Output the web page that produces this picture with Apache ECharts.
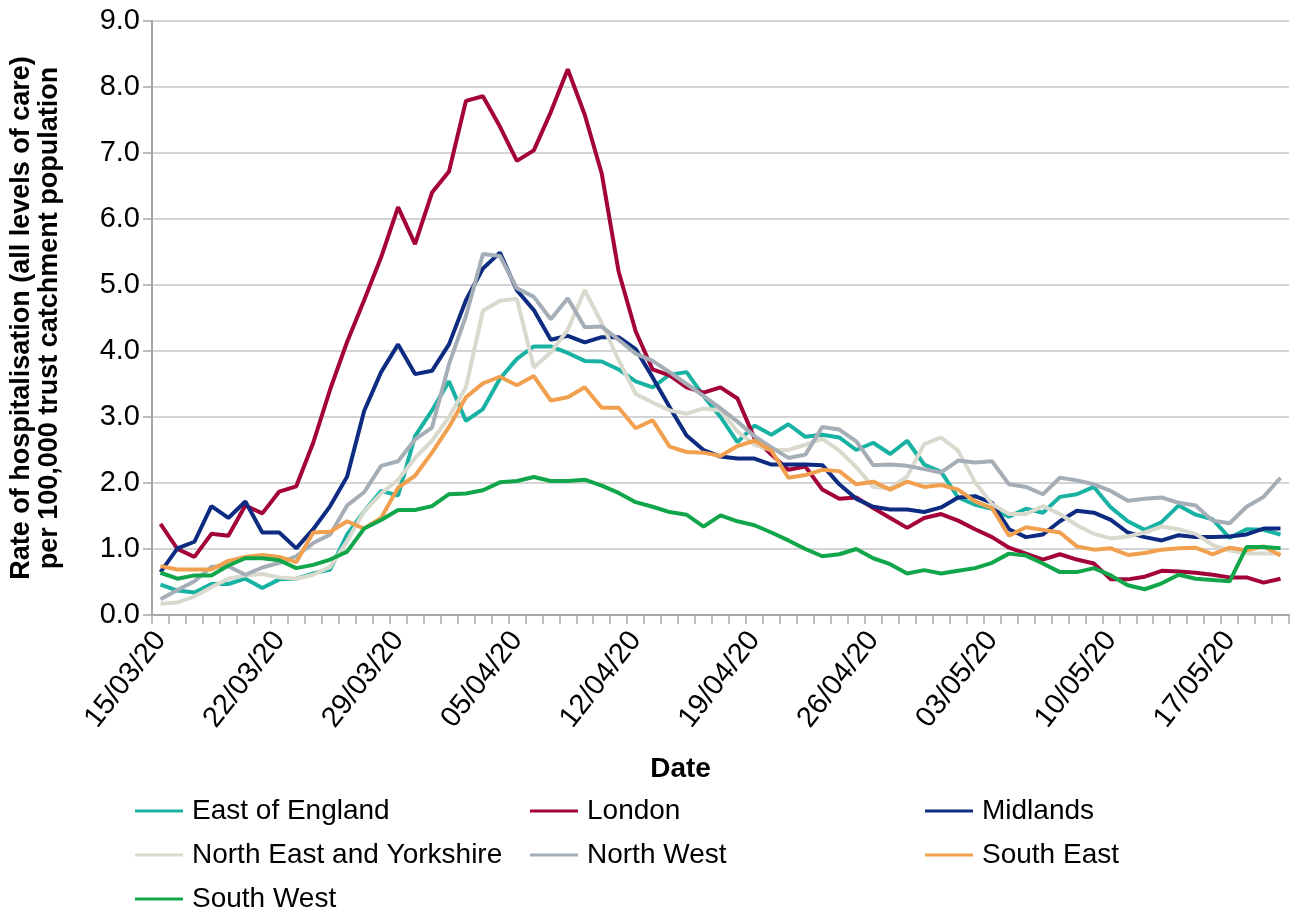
<!DOCTYPE html>
<html><head><meta charset="utf-8">
<script src="https://cdn.jsdelivr.net/npm/echarts@6/dist/echarts.min.js"></script>
<style>html,body{margin:0;padding:0;background:#fff}#c{width:1292px;height:908px}</style>
</head><body><div id="c"></div>
<script>
const dates = [
 '15/03/20','16/03/20','17/03/20','18/03/20','19/03/20','20/03/20','21/03/20','22/03/20','23/03/20','24/03/20',
 '25/03/20','26/03/20','27/03/20','28/03/20','29/03/20','30/03/20','31/03/20','01/04/20','02/04/20','03/04/20',
 '04/04/20','05/04/20','06/04/20','07/04/20','08/04/20','09/04/20','10/04/20','11/04/20','12/04/20','13/04/20',
 '14/04/20','15/04/20','16/04/20','17/04/20','18/04/20','19/04/20','20/04/20','21/04/20','22/04/20','23/04/20',
 '24/04/20','25/04/20','26/04/20','27/04/20','28/04/20','29/04/20','30/04/20','01/05/20','02/05/20','03/05/20',
 '04/05/20','05/05/20','06/05/20','07/05/20','08/05/20','09/05/20','10/05/20','11/05/20','12/05/20','13/05/20',
 '14/05/20','15/05/20','16/05/20','17/05/20','18/05/20','19/05/20','20/05/20'];

const yTicks = [0,1,2,3,4,5,6,7,8,9];

const eastOfEngland = [0.46,0.37,0.34,0.47,0.47,0.55,0.41,0.54,0.55,0.63,
 0.69,1.22,1.57,1.88,1.81,2.71,3.10,3.54,2.94,3.12,
 3.58,3.88,4.07,4.07,3.97,3.85,3.84,3.72,3.54,3.45,
 3.64,3.68,3.32,3.00,2.62,2.87,2.73,2.89,2.70,2.73,
 2.69,2.50,2.61,2.44,2.64,2.28,2.17,1.78,1.67,1.61,
 1.49,1.61,1.55,1.79,1.83,1.94,1.63,1.42,1.29,1.41,
 1.66,1.52,1.45,1.17,1.30,1.29,1.22];

const london = [1.38,1.00,0.88,1.23,1.20,1.66,1.54,1.87,1.95,2.61,
 3.42,4.14,4.77,5.42,6.18,5.62,6.40,6.72,7.79,7.86,
 7.40,6.88,7.04,7.62,8.27,7.58,6.69,5.20,4.30,3.72,
 3.63,3.45,3.37,3.45,3.28,2.68,2.43,2.20,2.25,1.90,
 1.76,1.78,1.62,1.47,1.32,1.47,1.53,1.43,1.30,1.18,
 1.02,0.93,0.84,0.92,0.84,0.78,0.54,0.54,0.58,0.67,
 0.66,0.64,0.61,0.57,0.57,0.49,0.55];

const midlands = [0.65,1.01,1.11,1.65,1.47,1.72,1.25,1.25,1.01,1.30,
 1.65,2.10,3.09,3.68,4.10,3.65,3.70,4.10,4.77,5.25,
 5.49,4.92,4.62,4.17,4.23,4.13,4.21,4.21,4.03,3.60,
 3.15,2.72,2.50,2.40,2.37,2.37,2.28,2.28,2.28,2.27,
 1.98,1.76,1.64,1.60,1.60,1.56,1.63,1.78,1.80,1.70,
 1.30,1.18,1.22,1.42,1.58,1.55,1.44,1.25,1.18,1.13,
 1.21,1.18,1.18,1.19,1.22,1.31,1.31];

const northEastYorkshire = [0.17,0.19,0.28,0.42,0.55,0.60,0.62,0.57,0.55,0.61,
 0.73,1.12,1.57,1.84,2.05,2.38,2.64,3.00,3.45,4.61,
 4.76,4.79,3.75,3.98,4.32,4.92,4.42,3.86,3.35,3.22,
 3.10,3.05,3.13,3.10,2.78,2.58,2.50,2.50,2.58,2.67,
 2.49,2.24,1.94,1.92,2.10,2.59,2.69,2.49,2.01,1.68,
 1.53,1.53,1.65,1.53,1.36,1.23,1.16,1.19,1.25,1.34,
 1.30,1.23,1.06,0.98,0.93,0.93,0.93];

const northWest = [0.24,0.38,0.51,0.73,0.74,0.61,0.72,0.79,0.89,1.09,
 1.22,1.66,1.86,2.26,2.33,2.66,2.84,3.80,4.53,5.47,
 5.44,4.95,4.82,4.48,4.80,4.36,4.37,4.17,3.96,3.85,
 3.68,3.50,3.32,3.13,2.93,2.71,2.54,2.38,2.43,2.85,
 2.81,2.63,2.27,2.28,2.26,2.21,2.16,2.34,2.31,2.33,
 1.98,1.94,1.83,2.08,2.04,1.98,1.88,1.73,1.76,1.78,
 1.70,1.66,1.43,1.39,1.64,1.79,2.08];

const southEast = [0.74,0.69,0.69,0.69,0.82,0.88,0.91,0.88,0.80,1.25,
 1.26,1.42,1.31,1.47,1.93,2.11,2.46,2.85,3.30,3.51,
 3.61,3.48,3.62,3.25,3.30,3.45,3.14,3.14,2.83,2.95,
 2.55,2.47,2.46,2.41,2.56,2.64,2.49,2.08,2.12,2.20,
 2.18,1.98,2.02,1.90,2.02,1.94,1.97,1.90,1.72,1.62,
 1.20,1.33,1.29,1.25,1.04,0.99,1.01,0.91,0.94,0.99,
 1.01,1.02,0.92,1.02,0.98,1.04,0.90];

const southWest = [0.64,0.55,0.60,0.60,0.75,0.86,0.86,0.83,0.71,0.76,
 0.84,0.96,1.31,1.44,1.59,1.59,1.65,1.83,1.84,1.89,
 2.01,2.03,2.09,2.03,2.03,2.05,1.96,1.85,1.71,1.64,
 1.56,1.52,1.34,1.51,1.42,1.36,1.25,1.13,1.00,0.89,
 0.92,1.00,0.86,0.77,0.63,0.68,0.63,0.67,0.71,0.79,
 0.93,0.90,0.78,0.65,0.65,0.71,0.60,0.45,0.39,0.48,
 0.61,0.55,0.53,0.51,1.03,1.03,1.01];

const seriesNames = ['East of England','London','Midlands','North East and Yorkshire','North West','South East','South West'];
const seriesData = [eastOfEngland, london, midlands, northEastYorkshire, northWest, southEast, southWest];
const seriesColors = ['#18B2A3','#A3023A','#0D2B80','#D9D9CE','#A5AEB7','#F0A04E','#12A64B'];

const FONT = "'Liberation Sans', Arial, Helvetica, sans-serif";
const chart = echarts.init(document.getElementById('c'), null, {renderer: 'canvas'});

function legendCol(names, left) {
  return {
    orient: 'vertical', left: left, top: 792, height: 400,
    itemWidth: 48, itemHeight: 3, itemGap: 16, icon: 'rect',
    data: names,
    textStyle: {fontFamily: FONT, fontSize: 28, color: '#000', padding: [0,0,0,4]}
  };
}

const option = {
  animation: false,
  backgroundColor: '#fff',
  grid: {left: 150, right: 3, top: 21, bottom: 293, containLabel: false},
  legend: [
    legendCol(['East of England','North East and Yorkshire','South West'], 130),
    legendCol(['London','North West'], 525),
    legendCol(['Midlands','South East'], 920)
  ],
  xAxis: {
    type: 'category', data: dates, boundaryGap: true,
    axisLine: {show: true, lineStyle: {color: '#A6A6A6', width: 2}},
    axisTick: {show: true, interval: 0, length: 9, lineStyle: {color: '#A6A6A6', width: 1.5}},
    axisLabel: {interval: 6, rotate: 52, fontSize: 29, color: '#000', fontFamily: FONT, margin: 20},
    splitLine: {show: false},
    name: 'Date', nameLocation: 'middle', nameGap: 140,
    nameTextStyle: {fontSize: 28, fontWeight: 'bold', color: '#000', fontFamily: FONT, padding: [0, 80, 0, 0]}
  },
  yAxis: {
    type: 'value', min: yTicks[0], max: yTicks[yTicks.length-1], interval: 1,
    axisLine: {show: true, lineStyle: {color: '#A6A6A6', width: 2}},
    axisTick: {show: true, length: 9, lineStyle: {color: '#A6A6A6', width: 1.5}},
    axisLabel: {formatter: v => v.toFixed(1), fontSize: 29, color: '#000', fontFamily: FONT, margin: 12},
    splitLine: {show: true, lineStyle: {color: '#D4D4D4', width: 2}},
    name: 'Rate of hospitalisation (all levels of care)\nper 100,000 trust catchment population',
    nameLocation: 'middle', nameRotate: 90, nameGap: 88,
    nameTextStyle: {fontSize: 27, fontWeight: 'bold', color: '#000', fontFamily: FONT, lineHeight: 28, align: 'center'}
  },
  series: seriesNames.map((n, k) => ({
    name: n, type: 'line', data: seriesData[k], symbol: 'none', smooth: false,
    color: seriesColors[k],
    lineStyle: {width: 4, color: seriesColors[k]}
  }))
};
chart.setOption(option);
</script></body></html>
